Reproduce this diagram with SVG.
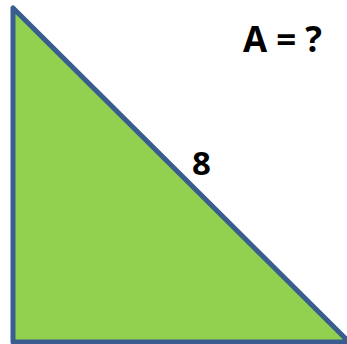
<svg xmlns="http://www.w3.org/2000/svg" width="347" height="344" viewBox="0 0 347 344">
<style>
.lbl{font-family:"Open Sans","Liberation Sans",sans-serif;font-weight:bold;fill:#000}
</style>
<rect width="347" height="344" fill="#fff"/>
<g id="triangle">
<polygon points="13,8 13,342 349,342" fill="#92D050" stroke="#3A5D8F" stroke-width="5" stroke-linejoin="round"/>
</g>
<g id="labels">
<text class="lbl" x="243" y="52" font-size="35">A = ?</text>
<text class="lbl" x="192" y="175" font-size="33">8</text>
</g>
</svg>
